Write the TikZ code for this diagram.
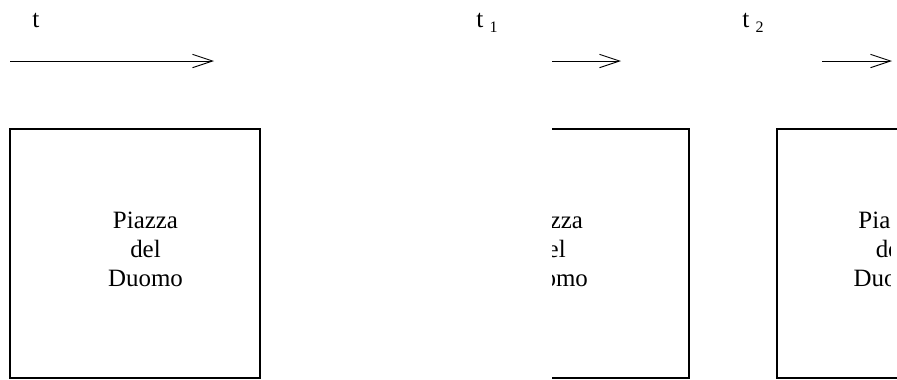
\documentclass[tikz,border=0pt]{standalone}
\usepackage{fontspec}
\setmainfont{Liberation Serif}
\usetikzlibrary{arrows.meta}

\tikzset{
  square/.style={draw, line width=0.9pt, minimum width=187.5pt, minimum height=186.75pt, inner sep=0pt},
  place/.style={align=center, inner sep=0pt, font=\fontsize{18.7}{21.75}\selectfont},
  timelabel/.style={anchor=base west, inner sep=0pt, font=\fontsize{19}{22}\selectfont},
  timearrow/.style={line width=0.7pt, -{Straight Barb[length=15pt, width=10pt, line width=0.7pt]}}
}
\newcommand{\tsub}[1]{\raisebox{-3.75pt}{\fontsize{12}{14}\selectfont #1}}

\begin{document}
\begin{tikzpicture}[x=0.75pt,y=0.75pt,yscale=-1,xscale=1]
\useasboundingbox (0,0) rectangle (897,379);

% Time labels
\node [timelabel] (lblt) at (32,27) {t};
\node [timelabel] (lblta) at (476,27) {t \tsub{1}};
\node [timelabel] (lbltb) at (742,27) {t \tsub{2}};

% Arrow ends
\coordinate (arra) at (10,61);
\coordinate (arrb) at (214,61);
\coordinate (arrc) at (552,61);
\coordinate (arrd) at (621,61);
\coordinate (arre) at (822,61);
\coordinate (arrf) at (892,61);

%Straight Lines
\draw [timearrow] (arra) -- (arrb);
\draw [timearrow] (arrc) -- (arrd);
\draw [timearrow] (arre) -- (arrf);

%Shape: Rectangle (whole square)
\node [square] (sqa) at (135,253.5) {};
% Text Node
\node [place] (txta) at (145.5,249.4) {Piazza\\del\\Duomo};

%Shape: Rectangle (cut on the left)
\begin{scope}
\clip (552,100) rectangle (720,379);
\node [square] (sqb) at (564,253.5) {};
\node [place] (txtb) at (550.5,249.4) {Piazza\\del\\Duomo};
\end{scope}

%Shape: Rectangle (cut on the right)
\begin{scope}
\clip (740,100) rectangle (897,379);
\node [square] (sqc) at (902,253.5) {};
\end{scope}
\begin{scope}
\clip (740,100) rectangle (890,379);
\node [place] (txtc) at (891,249.4) {Piazza\\del\\Duomo};
\end{scope}

\end{tikzpicture}
\end{document}
